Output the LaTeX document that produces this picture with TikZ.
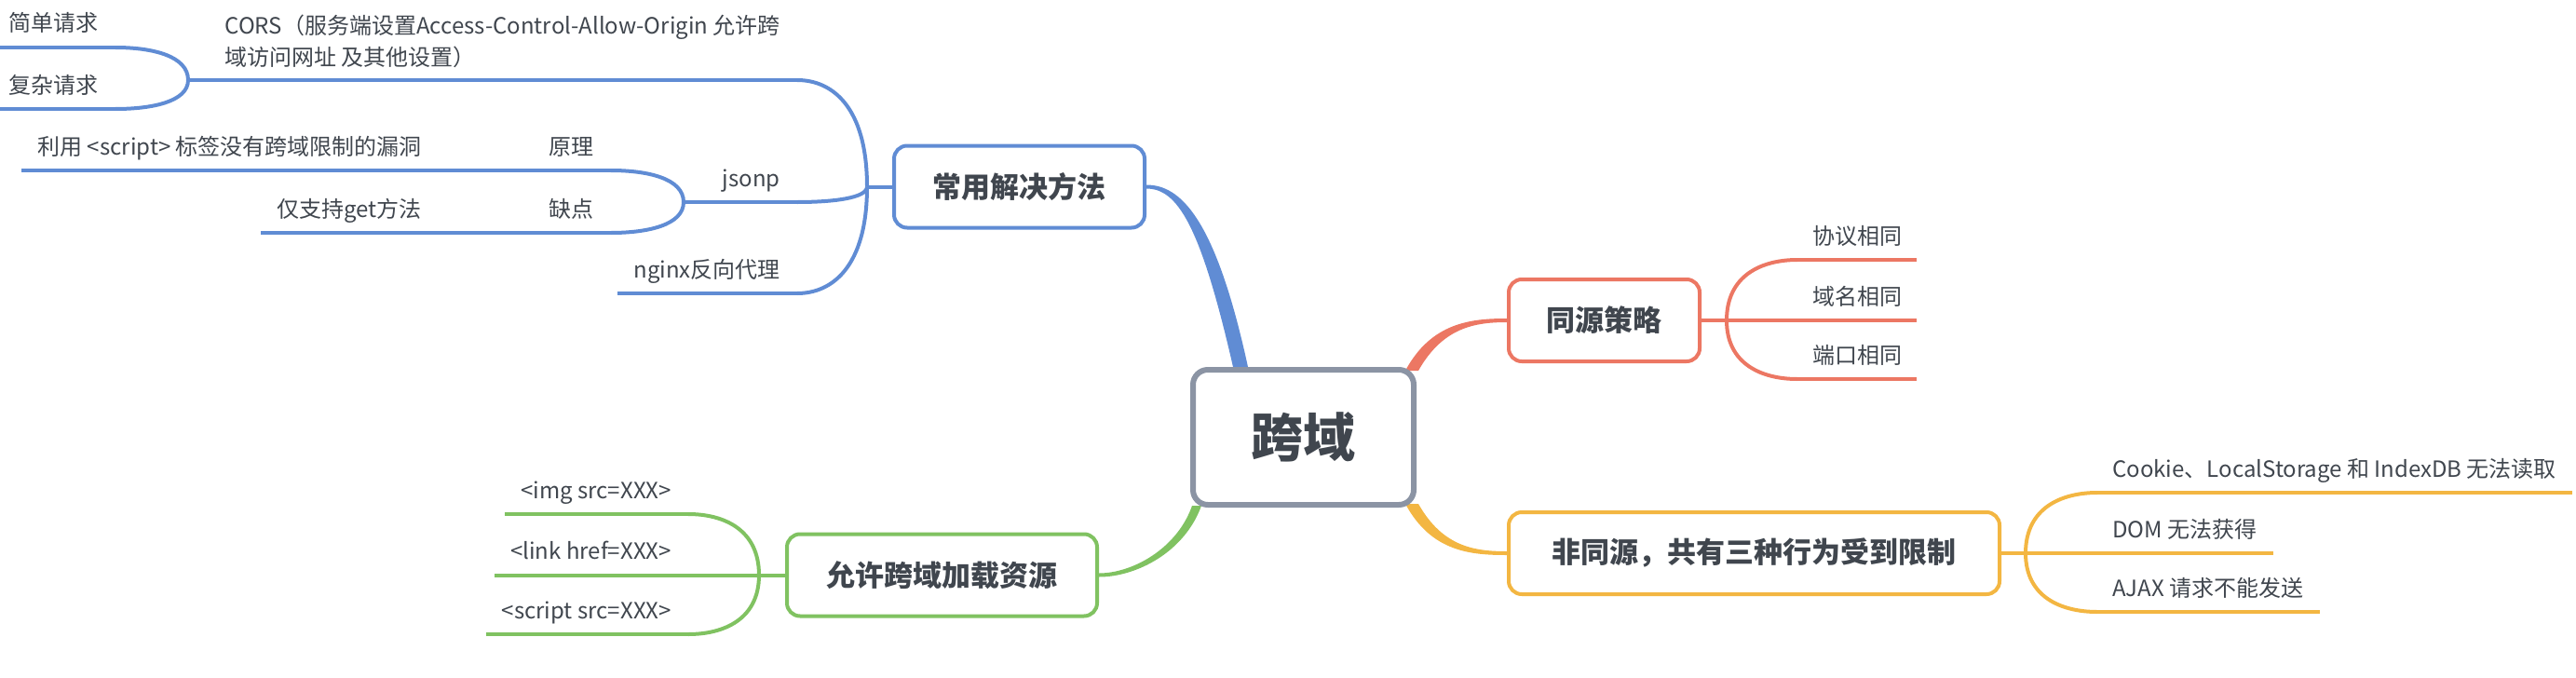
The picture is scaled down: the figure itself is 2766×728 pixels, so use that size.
\documentclass[tikz,border=0pt]{standalone}
\usepackage{fontspec}
\setmainfont{Noto Sans CJK SC}
\usetikzlibrary{calc,backgrounds}
\definecolor{mmblue}{RGB}{96,140,212}
\definecolor{mmred}{RGB}{236,119,99}
\definecolor{mmyellow}{RGB}{243,182,66}
\definecolor{mmgreen}{RGB}{128,194,97}
\definecolor{mmgray}{RGB}{139,148,164}
\definecolor{mmtext}{RGB}{64,70,78}

\tikzset{
  central/.style={draw=mmgray, line width=6pt, rounded corners=16pt, fill=white, text=mmtext,
    font=\fontsize{56}{60}\selectfont\bfseries, minimum width=237pt, minimum height=145pt},
  topic/.style={line width=4pt, rounded corners=14pt, fill=white, text=mmtext,
    font=\fontsize{31}{36}\selectfont\bfseries, minimum height=88pt},
  leaf/.style={text=mmtext, inner sep=0pt, font=\fontsize{24}{34}\selectfont,
    text height=21pt, text depth=3pt},
  leafL/.style={leaf, anchor=east, xshift=-18pt, yshift=26pt},
  leafR/.style={leaf, anchor=west, xshift=16pt, yshift=26pt},
  twig/.style={line width=4pt}
}

\begin{document}
\begin{tikzpicture}[x=1pt, y=-1pt]
\useasboundingbox (0,0) rectangle (2766,728);

% central topic
\node[central] (root) at (1399.5,469.5) {跨域};

% main topics
\node[topic, draw=mmblue, minimum width=269pt] (solve) at (1094.5,200.5) {常用解决方法};
\node[topic, draw=mmred, minimum width=205pt] (same) at (1722.5,344) {同源策略};
\node[topic, draw=mmyellow, minimum width=527pt] (limit) at (1883.5,594) {非同源，共有三种行为受到限制};
\node[topic, draw=mmgreen, minimum width=333pt] (load) at (1011.5,617.5) {允许跨域加载资源};

% forks
\coordinate (fsolve) at ($(solve.west)+(-27,0)$);
\coordinate (fsame) at ($(same.east)+(27,0)$);
\coordinate (flimit) at ($(limit.east)+(26,0)$);
\coordinate (fload) at ($(load.west)+(-28,0)$);

% solutions
\coordinate (cors) at (856,86);
\coordinate (corsf) at (202,86);
\coordinate (jsonp) at (856,217);
\coordinate (jsonpf) at (734,217);
\coordinate (nginx) at (856,315);
\coordinate (jiandan) at (124,51);
\coordinate (fuza) at (124,117);
\coordinate (yuanli) at (656,183);
\coordinate (quedian) at (656,250);
\coordinate (liyong) at (471,183);
\coordinate (get) at (471,250);

\node[leafL, yshift=16pt, align=left, text height={}, text depth={}] (tcors) at (cors)
  {CORS（服务端设置Access-Control-Allow-Origin 允许跨\\域访问网址 及其他设置）};
\node[leafL] (tjsonp) at (jsonp) {jsonp};
\node[leafL] (tnginx) at (nginx) {nginx反向代理};
\node[leafL] (tjiandan) at (jiandan) {简单请求};
\node[leafL] (tfuza) at (fuza) {复杂请求};
\node[leafL] (tyuanli) at (yuanli) {原理};
\node[leafL] (tquedian) at (quedian) {缺点};
\node[leafL] (tliyong) at (liyong) {利用 <script> 标签没有跨域限制的漏洞};
\node[leafL] (tget) at (get) {仅支持get方法};

% same origin
\coordinate (xieyi) at (1930,279);
\coordinate (yuming) at (1930,344);
\coordinate (duankou) at (1930,407);
\node[leafR] (txieyi) at (xieyi) {协议相同};
\node[leafR] (tyuming) at (yuming) {域名相同};
\node[leafR] (tduankou) at (duankou) {端口相同};

% limits
\coordinate (cookie) at (2252,529);
\coordinate (dom) at (2252,594);
\coordinate (ajax) at (2252,657);
\node[leafR] (tcookie) at (cookie) {Cookie、LocalStorage 和 IndexDB 无法读取};
\node[leafR] (tdom) at (dom) {DOM 无法获得};
\node[leafR] (tajax) at (ajax) {AJAX 请求不能发送};

% loading
\coordinate (img) at (739,552);
\coordinate (link) at (739,617.5);
\coordinate (script) at (739,681);
\node[leafL] (timg) at (img) {<img src=XXX>};
\node[leafL] (tlink) at (link) {<link href=XXX>};
\node[leafL] (tscript) at (script) {<script src=XXX>};

\begin{scope}[on background layer]
% tapered main branches
\coordinate (rb) at ($(root.north west)+(54,0)$);
\coordinate (rr) at ($(root.north east)+(-5,4)$);
\coordinate (ry) at ($(root.south east)+(-5,-4)$);
\coordinate (rg) at ($(root.south west)+(7,-2)$);
\fill[mmblue] ($(rb)+(8,0)$) .. controls +(-35,-161) and +(36,0) .. ($(solve.east)+(0,-2)$)
  -- ($(solve.east)+(0,2)$) .. controls +(33,0) and +(-35,-153) .. ($(rb)+(-8,0)$) -- cycle;
\fill[mmred] ($(rr)+(-7,0)$) .. controls +(28,-52) and +(-38,0) .. ($(same.west)+(0,-2)$)
  -- ($(same.west)+(0,2)$) .. controls +(-35,0) and +(26,-46) .. ($(rr)+(7,0)$) -- cycle;
\fill[mmyellow] ($(ry)+(-7,0)$) .. controls +(28,52) and +(-38,0) .. ($(limit.west)+(0,2)$)
  -- ($(limit.west)+(0,-2)$) .. controls +(-35,0) and +(26,46) .. ($(ry)+(7,0)$) -- cycle;
\fill[mmgreen] ($(rg)+(5,0)$) .. controls +(-18,50) and +(40,0) .. ($(load.east)+(0,2)$)
  -- ($(load.east)+(0,-2)$) .. controls +(36,0) and +(-16,46) .. ($(rg)+(-5,0)$) -- cycle;

% blue twigs
\draw[twig, mmblue] (solve.west) -- (fsolve);
\foreach \c in {cors,jsonp,nginx}
  \draw[twig, mmblue] (fsolve) .. controls ($(fsolve)!0.75!(fsolve|-\c)$) and ($(\c)!0.5!(fsolve|-\c)$) .. (\c);
\draw[twig, mmblue] (cors) -- (corsf);
\draw[twig, mmblue] (jsonp) -- (jsonpf);
\foreach \c in {jiandan,fuza}
  \draw[twig, mmblue] (corsf) .. controls ($(corsf)!0.75!(corsf|-\c)$) and ($(\c)!0.5!(corsf|-\c)$) .. (\c);
\foreach \c in {yuanli,quedian}
  \draw[twig, mmblue] (jsonpf) .. controls ($(jsonpf)!0.75!(jsonpf|-\c)$) and ($(\c)!0.5!(jsonpf|-\c)$) .. (\c);
\draw[twig, mmblue] (yuanli) -- (liyong);
\draw[twig, mmblue] (quedian) -- (get);
\foreach \c in {nginx,jiandan,fuza,liyong,get}
  \draw[twig, mmblue] (\c) -- ($(\c -| t\c.west)+(-17,0)$);

% red twigs
\draw[twig, mmred] (same.east) -- (fsame);
\foreach \c in {xieyi,yuming,duankou} {
  \draw[twig, mmred] (fsame) .. controls ($(fsame)!0.75!(fsame|-\c)$) and ($(\c)!0.5!(fsame|-\c)$) .. (\c);
  \draw[twig, mmred] (\c) -- ($(\c -| t\c.east)+(16,0)$);
}

% yellow twigs
\draw[twig, mmyellow] (limit.east) -- (flimit);
\foreach \c in {cookie,dom,ajax} {
  \draw[twig, mmyellow] (flimit) .. controls ($(flimit)!0.75!(flimit|-\c)$) and ($(\c)!0.5!(flimit|-\c)$) .. (\c);
  \draw[twig, mmyellow] (\c) -- ($(\c -| t\c.east)+(17,0)$);
}

% green twigs
\draw[twig, mmgreen] (load.west) -- (fload);
\foreach \c in {img,link,script} {
  \draw[twig, mmgreen] (fload) .. controls ($(fload)!0.75!(fload|-\c)$) and ($(\c)!0.5!(fload|-\c)$) .. (\c);
  \draw[twig, mmgreen] (\c) -- ($(\c -| t\c.west)+(-17,0)$);
}
\end{scope}
\end{tikzpicture}
\end{document}
